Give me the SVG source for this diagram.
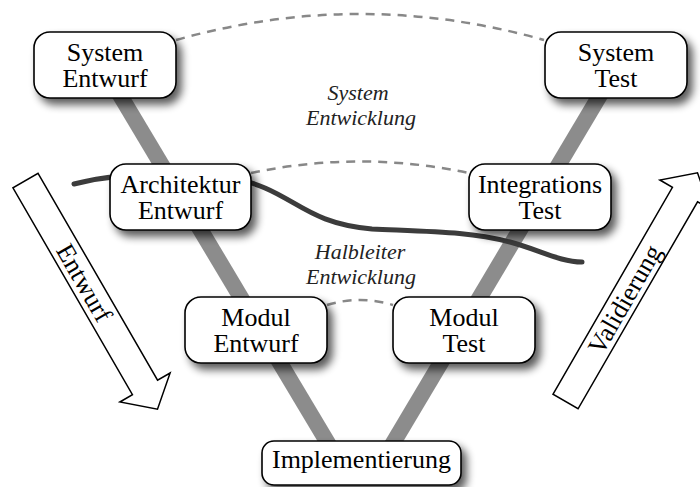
<svg xmlns="http://www.w3.org/2000/svg" width="700" height="487" viewBox="0 0 700 487">
<defs>
<filter id="sh" x="-20%" y="-30%" width="150%" height="170%">
<feGaussianBlur in="SourceAlpha" stdDeviation="4"/>
<feOffset dx="5" dy="6" result="b"/>
<feComponentTransfer><feFuncA type="linear" slope="0.65"/></feComponentTransfer>
<feMerge><feMergeNode/><feMergeNode in="SourceGraphic"/></feMerge>
</filter>
<path id="barrow" d="M0,-14.5 L239,-14.5 L239,-29 L264,0 L239,29 L239,14.5 L0,14.5 Z"/>
</defs>
<style>
.box{fill:#fff;stroke:#000;stroke-width:1.6}
.t{font-size:26px;text-anchor:middle;fill:#000}
.it{font-size:22px;font-style:italic;text-anchor:middle;fill:#222}
.bar{stroke:#8c8c8c;stroke-width:16;fill:none}
.dash{stroke:#888;stroke-width:2.5;fill:none;stroke-dasharray:9 7}
.big{fill:#fff;stroke:#000;stroke-width:1.5}
</style>
<rect width="700" height="487" fill="#fff"/>
<g id="connectors">
<line class="bar" x1="102" y1="65" x2="344" y2="470"/>
<line class="bar" x1="618" y1="65" x2="377" y2="470"/>
<path class="dash" d="M176,40 Q360,-12 544,40"/>
<path class="dash" d="M251,173 Q360,150 469,173"/>
<path class="dash" d="M327,305 Q360,295 393,305"/>
<path d="M74,184 C130,170 220,168 265,188 C300,203 315,224 372,229 C440,232 470,232 510,242 C540,250 560,262 582,262" fill="none" stroke="#3c3c3c" stroke-width="5" stroke-linecap="round"/>
</g>
<g font-family="'Liberation Serif', 'Times New Roman', 'DejaVu Serif', serif">
<g id="arrow-entwurf">
<use href="#barrow" class="big" transform="translate(25.5,180.5) rotate(60)"/>
<text class="t" transform="translate(25.5,180.5) rotate(60)" x="118" y="9">Entwurf</text>
</g>
<g id="arrow-validierung">
<use href="#barrow" class="big" transform="translate(565.5,401.5) rotate(-60)"/>
<text class="t" transform="translate(565.5,401.5) rotate(-60)" x="118" y="9">Validierung</text>
</g>
<g id="label-system">
<text class="it" x="358" y="100">System</text>
<text class="it" x="361" y="125">Entwicklung</text>
</g>
<g id="label-halbleiter">
<text class="it" x="360" y="259">Halbleiter</text>
<text class="it" x="361" y="284">Entwicklung</text>
</g>
<g id="system-entwurf">
<rect class="box" filter="url(#sh)" x="34" y="32" width="142" height="66" rx="16"/>
<text class="t" x="105" y="61">System</text>
<text class="t" x="105" y="87">Entwurf</text>
</g>
<g id="system-test">
<rect class="box" filter="url(#sh)" x="545" y="32" width="142" height="66" rx="16"/>
<text class="t" x="616" y="61">System</text>
<text class="t" x="616" y="87">Test</text>
</g>
<g id="architektur-entwurf">
<rect class="box" filter="url(#sh)" x="110" y="164" width="141" height="66" rx="16"/>
<text class="t" x="180.5" y="193">Architektur</text>
<text class="t" x="180.5" y="219">Entwurf</text>
</g>
<g id="integrations-test">
<rect class="box" filter="url(#sh)" x="469" y="164" width="142" height="66" rx="16"/>
<text class="t" x="540" y="193">Integrations</text>
<text class="t" x="540" y="219">Test</text>
</g>
<g id="modul-entwurf">
<rect class="box" filter="url(#sh)" x="185" y="297" width="142" height="66" rx="16"/>
<text class="t" x="256" y="326">Modul</text>
<text class="t" x="256" y="352">Entwurf</text>
</g>
<g id="modul-test">
<rect class="box" filter="url(#sh)" x="393" y="297" width="142" height="66" rx="16"/>
<text class="t" x="464" y="326">Modul</text>
<text class="t" x="464" y="352">Test</text>
</g>
<g id="implementierung">
<rect class="box" filter="url(#sh)" x="262" y="441" width="199" height="44" rx="12"/>
<text class="t" x="361.5" y="468">Implementierung</text>
</g>
</g>
</svg>
